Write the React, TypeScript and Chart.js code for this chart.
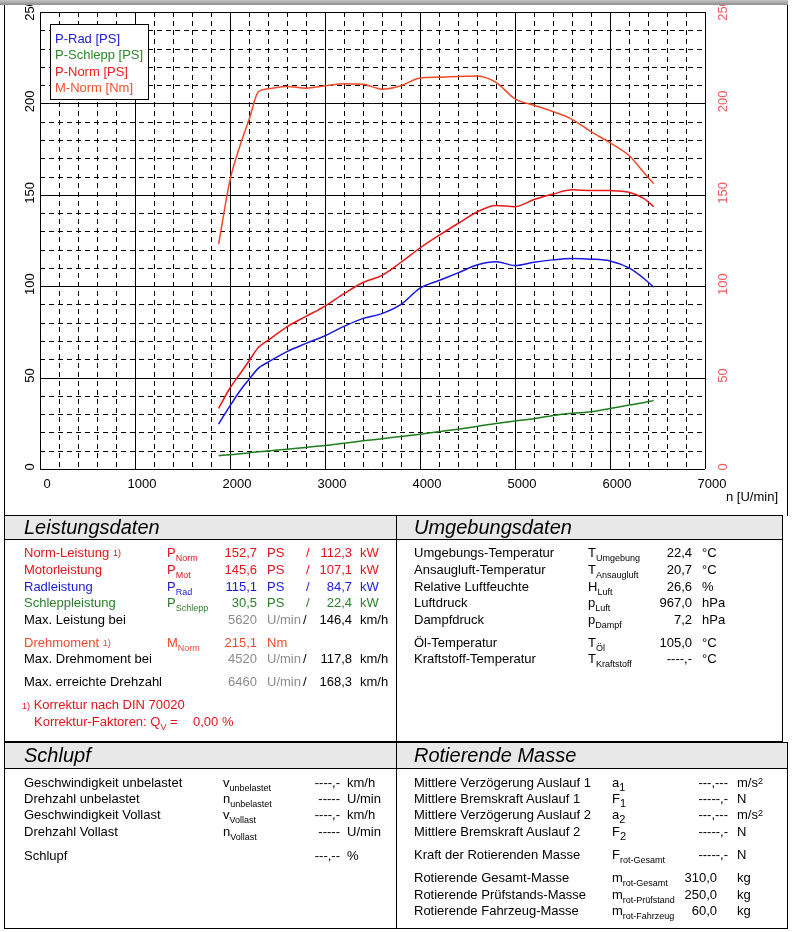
import React, { useEffect, useRef } from "react";
import { Chart, registerables } from "chart.js";
Chart.register(...registerables);

// ---- chart data ----
const rpm = [1880, 2000, 2100, 2200, 2300, 2400, 2600, 2800, 3000, 3200, 3400, 3600, 3800, 4000, 4200, 4400, 4600, 4800, 5000, 5200, 5400, 5600, 5800, 6000, 6200, 6350, 6460];
const pRad = [24.6, 34.5, 42.4, 49, 55.2, 58.4, 64.2, 68.7, 72.9, 78, 82.4, 85, 90, 98.9, 103.1, 107.3, 111.6, 113.4, 111.3, 113.1, 114.4, 115.1, 114.8, 113.8, 110, 104.5, 99.5];
const pSchlepp = [7.3, 7.8, 8.3, 8.8, 9.4, 9.9, 10.8, 11.8, 12.8, 14.1, 15.4, 16.6, 17.8, 19, 20.4, 21.8, 23.3, 24.9, 26.3, 27.5, 29.3, 30.5, 31.3, 33.1, 35, 36.3, 37.4];
const pNorm = [33.2, 44.3, 51.7, 59.1, 66.6, 70.4, 77.8, 83.5, 89.1, 95.9, 102, 105.9, 113.1, 120.9, 127.8, 134.3, 140.6, 144.2, 143.5, 147.4, 150.4, 152.7, 152.4, 152.3, 151.4, 148.2, 143.5];
const mNorm = [123, 158, 176, 191, 206.5, 208, 209.3, 208.3, 209.6, 210.8, 210.5, 207.8, 209.7, 213.9, 214.3, 214.7, 215, 211.5, 202.5, 199, 195.5, 191.3, 184.5, 178.5, 171.5, 162.6, 156];

const xTicks = [0, 1000, 2000, 3000, 4000, 5000, 6000, 7000];
const yTicks = [0, 50, 100, 150, 200, 250];
const seriesLabels = ["P-Rad [PS]", "P-Schlepp [PS]", "P-Norm [PS]", "M-Norm [Nm]"];
const xTitle = "n [U/min]";

// ---- styles ----
const W = 792;
const FONT = "'Liberation Sans', Arial, Helvetica, sans-serif";
const RED = "#e3141c";
const ORANGE = "#f04a30";
const BLUE = "#1a1ad8";
const GREEN = "#2b7f2b";
const GRAY = "#8c8c8c";
const C_RAD = "#1818e0";
const C_SCHLEPP = "#1e7e1e";
const C_NORM = "#e81818";
const C_M = "#f24a28";
const LEGEND_COLORS = ["#2020d8", "#2a8a2a", "#e82020", "#f05030"];

const dynoPlugin = {
  id: "dyno",
  beforeDatasetsDraw(chart: any) {
    const { ctx, chartArea: a, scales } = chart;
    const xs = scales.x;
    const ys = scales.y;
    ctx.save();
    ctx.lineWidth = 1;
    ctx.strokeStyle = "#000";
    const drawSet = (dashed: boolean) => {
      ctx.setLineDash(dashed ? [5, 4] : []);
      for (let v = 0; v <= 250; v += 10) {
        const major = v % 50 === 0;
        if (major === dashed) continue;
        const y = Math.round(ys.getPixelForValue(v)) + 0.5;
        ctx.beginPath();
        ctx.moveTo(a.left, y);
        ctx.lineTo(a.right, y);
        ctx.stroke();
      }
      for (let n = 0; n <= 7000; n += 200) {
        const major = n % 1000 === 0;
        if (major === dashed) continue;
        const x = Math.round(xs.getPixelForValue(n)) + 0.5;
        ctx.beginPath();
        ctx.moveTo(x, a.top);
        ctx.lineTo(x, a.bottom);
        ctx.stroke();
      }
    };
    drawSet(true);
    drawSet(false);
    ctx.restore();
  },
  afterDraw(chart: any) {
    const { ctx, scales } = chart;
    const xs = scales.x;
    const ys = scales.y;
    const ys2 = scales.y2;
    ctx.save();
    ctx.font = `13px ${FONT}`;
    ctx.textAlign = "center";
    ctx.textBaseline = "middle";
    ctx.fillStyle = "#000";
    for (const t of xTicks) {
      ctx.fillText(String(t), xs.getPixelForValue(t) + 7, 484);
    }
    for (const t of yTicks) {
      ctx.save();
      ctx.translate(30, ys.getPixelForValue(t) - 2);
      ctx.rotate(-Math.PI / 2);
      ctx.fillStyle = "#000";
      ctx.fillText(String(t), 0, 0);
      ctx.restore();
      ctx.save();
      ctx.translate(723, ys2.getPixelForValue(t) - 2);
      ctx.rotate(-Math.PI / 2);
      ctx.fillStyle = "#f05a5a";
      ctx.fillText(String(t), 0, 0);
      ctx.restore();
    }
    ctx.textAlign = "right";
    ctx.fillStyle = "#000";
    ctx.fillText(xTitle, 778, 497);
    // legend box
    ctx.fillStyle = "#fff";
    ctx.fillRect(50.5, 24.5, 98, 75);
    ctx.strokeStyle = "#000";
    ctx.lineWidth = 1;
    ctx.strokeRect(50.5, 24.5, 98, 75);
    ctx.textAlign = "left";
    const rows = [39, 55, 72, 88];
    seriesLabels.forEach((l, i) => {
      ctx.fillStyle = LEGEND_COLORS[i];
      ctx.fillText(l, 55, rows[i]);
    });
    ctx.restore();
  },
};

function DynoChart() {
  const ref = useRef<HTMLCanvasElement | null>(null);
  useEffect(() => {
    if (!ref.current) return;
    const pts = (arr: number[]) => rpm.map((x, i) => ({ x, y: arr[i] }));
    const ds = (label: string, arr: number[], color: string, axis = "y") => ({
      label,
      data: pts(arr),
      borderColor: color,
      backgroundColor: color,
      borderWidth: 1.5,
      pointRadius: 0,
      fill: false,
      cubicInterpolationMode: "monotone" as const,
      yAxisID: axis,
    });
    const chart = new Chart(ref.current, {
      type: "line",
      data: {
        datasets: [
          ds(seriesLabels[1], pSchlepp, C_SCHLEPP),
          ds(seriesLabels[0], pRad, C_RAD),
          ds(seriesLabels[2], pNorm, C_NORM),
          ds(seriesLabels[3], mNorm, C_M, "y2"),
        ],
      },
      options: {
        animation: false,
        responsive: false,
        devicePixelRatio: 1,
        layout: { padding: { top: 12, left: 0, right: 0, bottom: 0 } },
        plugins: { legend: { display: false }, tooltip: { enabled: false } },
        scales: {
          x: {
            type: "linear",
            min: 0,
            max: 7000,
            ticks: { display: false },
            grid: { display: false },
            border: { display: false },
            afterFit: (s: any) => { s.height = 43; },
          },
          y: {
            position: "left",
            min: 0,
            max: 250,
            ticks: { display: false },
            grid: { display: false },
            border: { display: false },
            afterFit: (s: any) => { s.width = 40; },
          },
          y2: {
            position: "right",
            min: 0,
            max: 250,
            ticks: { display: false },
            grid: { display: false },
            border: { display: false },
            afterFit: (s: any) => { s.width = 87; },
          },
        },
      } as any,
      plugins: [dynoPlugin],
    });
    return () => chart.destroy();
  }, []);
  return (
    <canvas
      ref={ref}
      width={792}
      height={512}
      style={{ position: "absolute", left: 0, top: 0, width: 792, height: 512, display: "block" }}
    />
  );
}

// ---- table helpers ----
type TP = { x: number; y: number; right?: boolean; color?: string; size?: number; children?: React.ReactNode };
function T({ x, y, right, color, size, children }: TP) {
  const st: React.CSSProperties = {
    position: "absolute",
    top: y - 9,
    height: 18,
    lineHeight: "18px",
    fontSize: size ?? 13,
    color: color ?? "#000",
    whiteSpace: "nowrap",
  };
  if (right) st.right = W - x;
  else st.left = x;
  return <div style={st}>{children}</div>;
}
function Sub({ children, size = 9 }: { children: React.ReactNode; size?: number }) {
  return <span style={{ fontSize: size, position: "relative", top: 4 }}>{children}</span>;
}
function Note() {
  return <span style={{ fontSize: 9, position: "relative", top: -1 }}>1)</span>;
}
function Header({ x, y, w, h, text }: { x: number; y: number; w: number; h: number; text: string }) {
  return (
    <div
      style={{
        position: "absolute",
        left: x,
        top: y,
        width: w,
        height: h,
        background: "#e8e8e8",
        borderBottom: "1px solid #000",
        boxSizing: "border-box",
        fontStyle: "italic",
        fontSize: 20,
        lineHeight: `${h}px`,
        paddingLeft: 20,
        whiteSpace: "nowrap",
      }}
    >
      {text}
    </div>
  );
}
function Box({ x, y, w, h, sides = "all" }: { x: number; y: number; w: number; h: number; sides?: string }) {
  const st: React.CSSProperties = { position: "absolute", left: x, top: y, width: w, height: h, boxSizing: "border-box" };
  if (sides === "all") st.border = "1px solid #000";
  if (sides === "lr") { st.borderLeft = "1px solid #000"; st.borderRight = "1px solid #000"; }
  return <div style={st} />;
}
function VLine({ x, y1, y2 }: { x: number; y1: number; y2: number }) {
  return <div style={{ position: "absolute", left: x, top: y1, width: 1, height: y2 - y1, background: "#000" }} />;
}

// ---- table contents ----
const powerRows = [
  { label: "Norm-Leistung", note: true, sub: "Norm", v1: "152,7", v2: "112,3", color: RED, y: 553 },
  { label: "Motorleistung", note: false, sub: "Mot", v1: "145,6", v2: "107,1", color: RED, y: 570 },
  { label: "Radleistung", note: false, sub: "Rad", v1: "115,1", v2: "84,7", color: BLUE, y: 587 },
  { label: "Schleppleistung", note: false, sub: "Schlepp", v1: "30,5", v2: "22,4", color: GREEN, y: 603 },
];
const speedRows = [
  { label: "Max. Leistung bei", n: "5620", v: "146,4", y: 620 },
  { label: "Max. Drehmoment bei", n: "4520", v: "117,8", y: 659 },
  { label: "Max. erreichte Drehzahl", n: "6460", v: "168,3", y: 682 },
];
const envRows = [
  { label: "Umgebungs-Temperatur", s: "T", sub: "Umgebung", v: "22,4", u: "°C", y: 553 },
  { label: "Ansaugluft-Temperatur", s: "T", sub: "Ansaugluft", v: "20,7", u: "°C", y: 570 },
  { label: "Relative Luftfeuchte", s: "H", sub: "Luft", v: "26,6", u: "%", y: 587 },
  { label: "Luftdruck", s: "p", sub: "Luft", v: "967,0", u: "hPa", y: 603 },
  { label: "Dampfdruck", s: "p", sub: "Dampf", v: "7,2", u: "hPa", y: 620 },
  { label: "Öl-Temperatur", s: "T", sub: "Öl", v: "105,0", u: "°C", y: 643 },
  { label: "Kraftstoff-Temperatur", s: "T", sub: "Kraftstoff", v: "----,-", u: "°C", y: 659 },
];
const slipRows = [
  { label: "Geschwindigkeit unbelastet", s: "v", sub: "unbelastet", v: "----,-", u: "km/h", y: 783 },
  { label: "Drehzahl unbelastet", s: "n", sub: "unbelastet", v: "-----", u: "U/min", y: 799 },
  { label: "Geschwindigkeit Vollast", s: "v", sub: "Vollast", v: "----,-", u: "km/h", y: 815 },
  { label: "Drehzahl Vollast", s: "n", sub: "Vollast", v: "-----", u: "U/min", y: 832 },
  { label: "Schlupf", s: "", sub: "", v: "---,--", u: "%", y: 856 },
];
const massRows = [
  { label: "Mittlere Verzögerung Auslauf 1", s: "a", sub: "1", v: "---,---", u: "m/s", sq: true, y: 783, r: 728 },
  { label: "Mittlere Bremskraft Auslauf 1", s: "F", sub: "1", v: "-----,-", u: "N", sq: false, y: 799, r: 728 },
  { label: "Mittlere Verzögerung Auslauf 2", s: "a", sub: "2", v: "---,---", u: "m/s", sq: true, y: 815, r: 728 },
  { label: "Mittlere Bremskraft Auslauf 2", s: "F", sub: "2", v: "-----,-", u: "N", sq: false, y: 832, r: 728 },
  { label: "Kraft der Rotierenden Masse", s: "F", sub: "rot-Gesamt", v: "-----,-", u: "N", sq: false, y: 855, r: 728 },
  { label: "Rotierende Gesamt-Masse", s: "m", sub: "rot-Gesamt", v: "310,0", u: "kg", sq: false, y: 878, r: 717 },
  { label: "Rotierende Prüfstands-Masse", s: "m", sub: "rot-Prüfstand", v: "250,0", u: "kg", sq: false, y: 895, r: 717 },
  { label: "Rotierende Fahrzeug-Masse", s: "m", sub: "rot-Fahrzeug", v: "60,0", u: "kg", sq: false, y: 911, r: 717 },
];

export default function App() {
  return (
    <div style={{ position: "absolute", left: 0, top: 0, width: W, height: 932, background: "#fff", fontFamily: FONT, overflow: "hidden" }}>
      <DynoChart />
      {/* top shadow */}
      <div style={{ position: "absolute", left: 0, top: 0, width: 788, height: 5, background: "linear-gradient(to bottom, #c4c4c4, #8e8e8e)" }} />
      {/* chart frame */}
      <Box x={4} y={5} w={784} h={511} sides="lr" />

      {/* upper table */}
      <Header x={4} y={515} w={778} h={25} text="Leistungsdaten" />
      <div style={{ position: "absolute", left: 396, top: 515, width: 386, height: 25, background: "#e8e8e8", borderBottom: "1px solid #000", boxSizing: "border-box", fontStyle: "italic", fontSize: 20, lineHeight: "25px", paddingLeft: 18 }}>Umgebungsdaten</div>
      <Box x={4} y={515} w={779} h={227} />
      <VLine x={396} y1={515} y2={742} />

      {powerRows.map((r) => (
        <React.Fragment key={r.label}>
          <T x={24} y={r.y} color={r.color}>{r.label}{r.note ? <> <Note /></> : null}</T>
          <T x={167} y={r.y} color={r.color}>P<Sub>{r.sub}</Sub></T>
          <T x={257} y={r.y} right color={r.color}>{r.v1}</T>
          <T x={267} y={r.y} color={r.color}>PS</T>
          <T x={306} y={r.y} color={r.color}>/</T>
          <T x={352} y={r.y} right color={r.color}>{r.v2}</T>
          <T x={360} y={r.y} color={r.color}>kW</T>
        </React.Fragment>
      ))}
      {speedRows.map((r) => (
        <React.Fragment key={r.label}>
          <T x={24} y={r.y}>{r.label}</T>
          <T x={257} y={r.y} right color={GRAY}>{r.n}</T>
          <T x={267} y={r.y} color={GRAY}>U/min</T>
          <T x={303} y={r.y}>/</T>
          <T x={352} y={r.y} right>{r.v}</T>
          <T x={360} y={r.y}>km/h</T>
        </React.Fragment>
      ))}
      <T x={24} y={643} color={ORANGE}>Drehmoment <Note /></T>
      <T x={167} y={643} color={ORANGE}>M<Sub>Norm</Sub></T>
      <T x={257} y={643} right color={ORANGE}>215,1</T>
      <T x={267} y={643} color={ORANGE}>Nm</T>
      <T x={22} y={705} color={RED}><span style={{ fontSize: 9 }}>1)</span> Korrektur nach DIN 70020</T>
      <T x={34} y={722} color={RED}>Korrektur-Faktoren: Q<Sub>V</Sub> =</T>
      <T x={193} y={722} color={RED}>0,00 %</T>

      {envRows.map((r) => (
        <React.Fragment key={r.label}>
          <T x={414} y={r.y}>{r.label}</T>
          <T x={588} y={r.y}>{r.s}<Sub>{r.sub}</Sub></T>
          <T x={692} y={r.y} right>{r.v}</T>
          <T x={702} y={r.y}>{r.u}</T>
        </React.Fragment>
      ))}

      {/* lower table */}
      <Header x={4} y={742} w={783} h={27} text="Schlupf" />
      <div style={{ position: "absolute", left: 396, top: 742, width: 391, height: 27, background: "#e8e8e8", borderBottom: "1px solid #000", boxSizing: "border-box", fontStyle: "italic", fontSize: 20, lineHeight: "27px", paddingLeft: 18 }}>Rotierende Masse</div>
      <Box x={4} y={742} w={784} h={187} />
      <VLine x={396} y1={742} y2={929} />

      {slipRows.map((r) => (
        <React.Fragment key={r.label}>
          <T x={24} y={r.y}>{r.label}</T>
          {r.s ? <T x={223} y={r.y}>{r.s}<Sub>{r.sub}</Sub></T> : null}
          <T x={340} y={r.y} right>{r.v}</T>
          <T x={347} y={r.y}>{r.u}</T>
        </React.Fragment>
      ))}
      {massRows.map((r) => (
        <React.Fragment key={r.label}>
          <T x={414} y={r.y}>{r.label}</T>
          <T x={612} y={r.y}>{r.s}<Sub size={r.sub.length > 1 ? 9 : 11}>{r.sub}</Sub></T>
          <T x={r.r} y={r.y} right>{r.v}</T>
          <T x={737} y={r.y}>{r.u}{r.sq ? <span style={{ fontSize: 9, position: "relative", top: -3 }}>2</span> : null}</T>
        </React.Fragment>
      ))}
    </div>
  );
}
